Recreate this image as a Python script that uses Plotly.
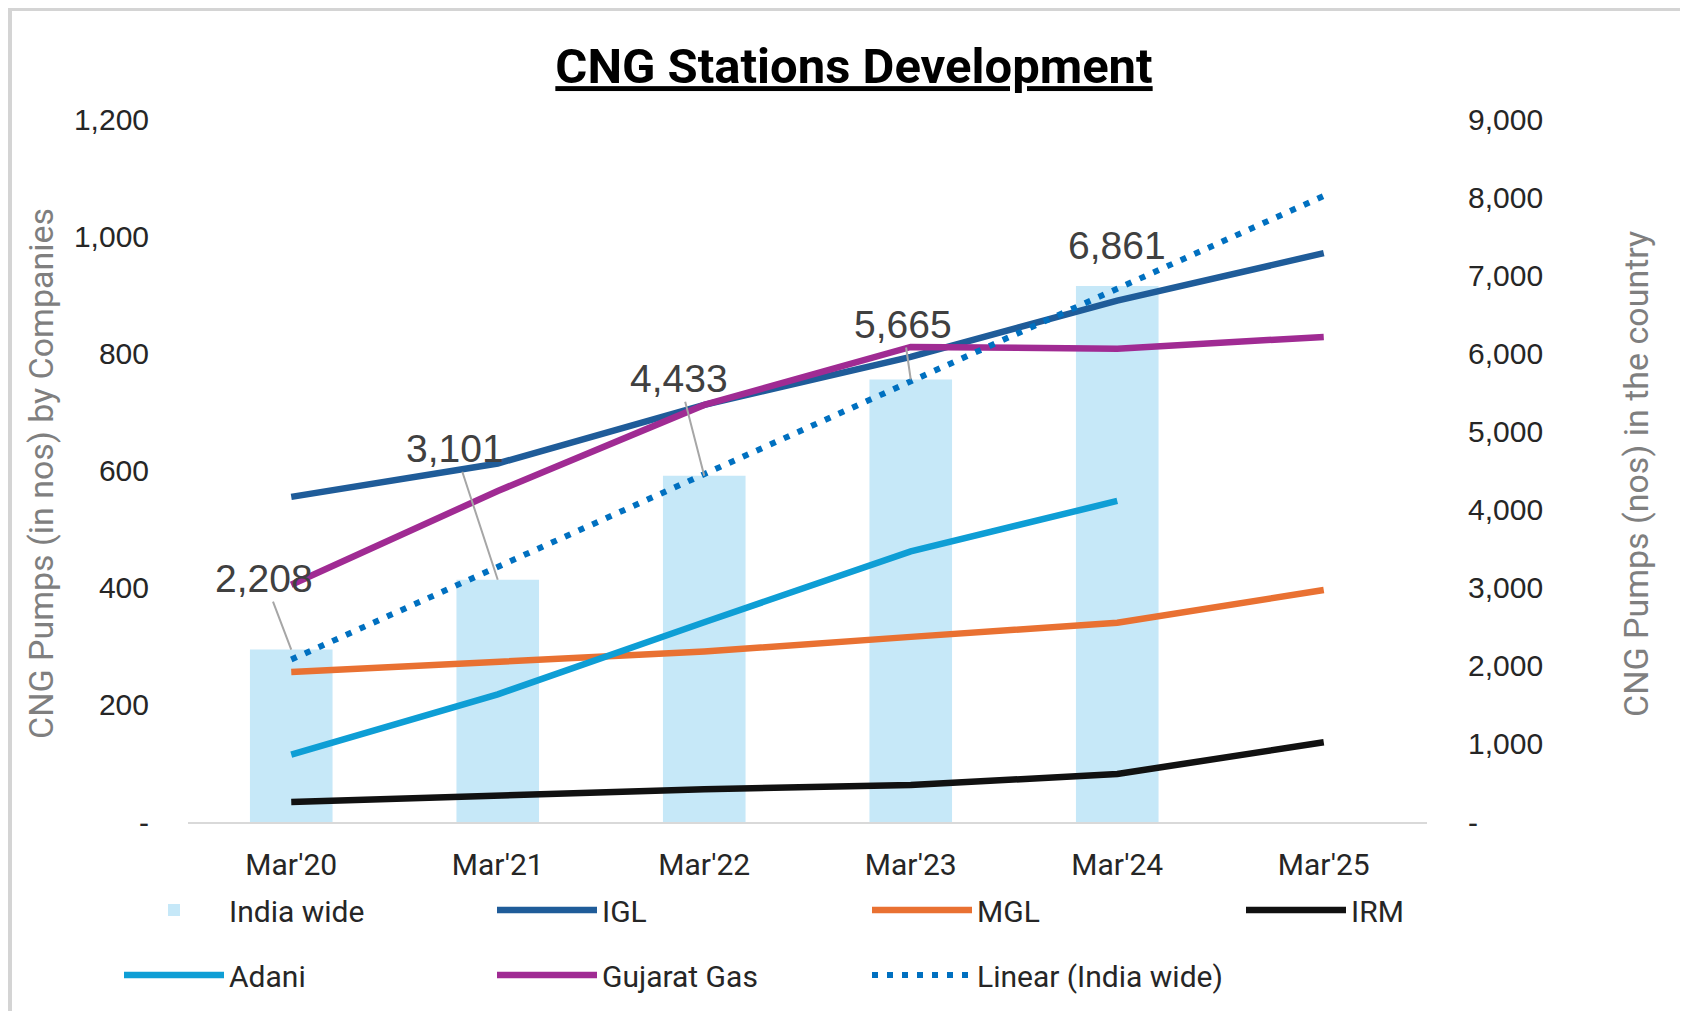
import numpy as np
import plotly.graph_objects as go

# ---------------- data ----------------
categories = ["Mar'20", "Mar'21", "Mar'22", "Mar'23", "Mar'24", "Mar'25"]
india_wide = [2208, 3101, 4433, 5665, 6861, None]
igl = [555, 612, 712, 794, 890, 971]
mgl = [256, 273, 291, 316, 340, 396]
irm = [34, 46, 56, 63, 82, 136]
adani = [115, 218, 341, 462, 548, None]
gujarat_gas = [405, 565, 712, 811, 808, 828]

left_tickvals = [0, 200, 400, 600, 800, 1000, 1200]
left_ticktext = ["-", "200", "400", "600", "800", "1,000", "1,200"]
right_tickvals = [0, 1000, 2000, 3000, 4000, 5000, 6000, 7000, 8000, 9000]
right_ticktext = ["-", "1,000", "2,000", "3,000", "4,000", "5,000", "6,000", "7,000", "8,000", "9,000"]

# linear trendline of India wide (like Excel, forecast one period forward)
known_idx = [i for i, v in enumerate(india_wide) if v is not None]
coef = np.polyfit(known_idx, [india_wide[i] for i in known_idx], 1)
trend = [float(np.polyval(coef, i)) for i in range(len(categories))]

# ---------------- layout geometry ----------------
OFF = 8                      # page body margin
W, H = 1688 - 2 * OFF, 1019 - 2 * OFF
L, R, T, B = 188 - OFF, 1427 - OFF, 119 - OFF, 822 - OFF
pw, ph = R - L, B - T


def px(page_x):
    return (page_x - OFF - L) / pw


def py(page_y):
    return (B - (page_y - OFF)) / ph


NUM_FONT = "Liberation Sans, Arial, sans-serif"
NARROW_FONT = "Roboto, Liberation Sans, sans-serif"

fig = go.Figure()

fig.add_trace(go.Bar(
    x=categories, y=india_wide, name="India wide", yaxis="y",
    marker=dict(color="#C6E8F8", line=dict(width=0)),
    legend="legend", legendgroup="g1",
))

line_specs = [
    ("IGL", igl, "#1F5C99", "legend2", "g2"),
    ("MGL", mgl, "#E97132", "legend3", "g3"),
    ("IRM", irm, "#111111", "legend4", "g4"),
    ("Adani", adani, "#0E9ED5", "legend", "g5"),
    ("Gujarat Gas", gujarat_gas, "#A02B93", "legend2", "g6"),
]
for name, vals, col, lg, grp in line_specs:
    fig.add_trace(go.Scatter(
        x=categories, y=vals, name=name, mode="lines", yaxis="y2",
        line=dict(color=col, width=6.5), legend=lg, legendgroup=grp,
    ))

fig.add_trace(go.Scatter(
    x=categories, y=trend, name="Linear (India wide)", mode="lines", yaxis="y3",
    line=dict(color="#0070C0", width=6, dash="6px,9px"), legend="legend3", legendgroup="g7",
))

# data labels with leader lines for India wide bars
label_offsets = [(-27, -71), (-43, -131), (-25, -97), (-8, -55), (0, -41)]
LABEL_FONT = dict(family=NUM_FONT, size=39, color="#404040")
annotations = []
for i, v in enumerate(india_wide):
    if v is None:
        continue
    ax, ay = label_offsets[i]
    if i == 4:
        annotations.append(dict(
            x=categories[i], y=v, xref="x", yref="y", text=f"{v:,}",
            showarrow=False, yshift=-ay, xshift=ax, font=LABEL_FONT,
        ))
    else:
        annotations.append(dict(
            x=categories[i], y=v, xref="x", yref="y", text=f"{v:,}",
            showarrow=True, arrowhead=0, arrowwidth=2, arrowcolor="#A6A6A6",
            ax=ax, ay=ay, standoff=0, font=LABEL_FONT,
        ))

# axis titles
TITLE_FONT = dict(family=NARROW_FONT, size=34, color="#7F7F7F")
annotations.append(dict(
    x=px(41), y=py(474), xref="paper", yref="paper", xanchor="center", yanchor="middle",
    text="CNG Pumps (in nos) by Companies", textangle=-90, showarrow=False, font=TITLE_FONT,
))
annotations.append(dict(
    x=px(1636), y=py(474), xref="paper", yref="paper", xanchor="center", yanchor="middle",
    text="CNG Pumps (nos) in the country", textangle=-90, showarrow=False, font=TITLE_FONT,
))

shapes = [
    dict(type="line", xref="paper", yref="paper", x0=px(0), x1=px(1700), y0=py(9), y1=py(9),
         line=dict(color="#D4D4D4", width=4)),
    dict(type="line", xref="paper", yref="paper", x0=px(10), x1=px(10), y0=py(8), y1=py(1030),
         line=dict(color="#D4D4D4", width=4)),
]

LEG_FONT = dict(family=NARROW_FONT, size=30, color="#262626")
legend_x_page = [119, 492, 867, 1241]
legends = {}
for k, xp in enumerate(legend_x_page):
    key = "legend" if k == 0 else f"legend{k + 1}"
    legends[key] = dict(
        orientation="v", x=px(xp), y=py(884), xanchor="left", yanchor="top",
        itemwidth=100, tracegroupgap=23,
        font=LEG_FONT, bgcolor="rgba(0,0,0,0)", traceorder="grouped",
        borderwidth=0,
    )

fig.update_layout(
    width=W, height=H,
    margin=dict(l=L, r=W - R, t=T, b=H - B, pad=0, autoexpand=False),
    paper_bgcolor="white", plot_bgcolor="white",
    title=dict(
        text="<b><u>CNG Stations Development</u></b>",
        x=(854 - OFF) / W, xref="container", xanchor="center",
        y=1 - (66 - OFF) / H, yref="container", yanchor="middle",
        font=dict(family=NARROW_FONT, size=49, color="#000000"),
    ),
    barmode="overlay", bargap=0.6,
    xaxis=dict(
        type="category", showgrid=False, showline=True, linecolor="#D9D9D9", linewidth=2,
        ticks="", tickfont=dict(family=NARROW_FONT, size=30, color="#262626"),
        ticklabelstandoff=15, zeroline=False,
    ),
    yaxis=dict(
        range=[0, 9000], tickvals=right_tickvals, ticktext=right_ticktext,
        side="right",
        showgrid=False, zeroline=False, showline=False, ticks="",
        tickfont=dict(family=NUM_FONT, size=30, color="#262626"),
        ticklabelstandoff=40,
    ),
    yaxis2=dict(
        range=[0, 1200], tickvals=left_tickvals, ticktext=left_ticktext,
        overlaying="y", side="left",
        showgrid=False, zeroline=False, showline=False, ticks="",
        tickfont=dict(family=NUM_FONT, size=30, color="#262626"),
        ticklabelstandoff=38,
    ),
    yaxis3=dict(range=[0, 9000], overlaying="y", visible=False),
    annotations=annotations,
    shapes=shapes,
    showlegend=True,
    **legends,
)

fig.write_html("out.html")
